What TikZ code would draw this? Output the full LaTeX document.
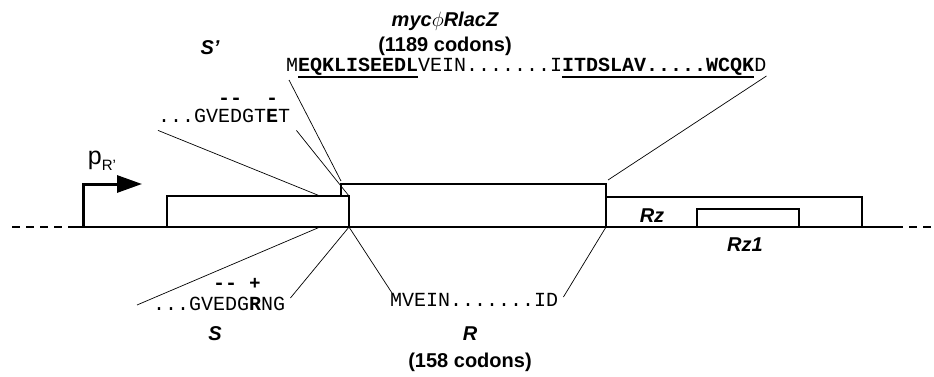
\documentclass[tikz,border=0pt]{standalone}
\usepackage{fontspec}
\setmainfont{Liberation Sans}
\newfontfamily\seqfont{Liberation Mono}
\usepackage{tikz}
\usetikzlibrary{positioning,arrows.meta}

\newcommand{\sequl}[1]{\setbox0\hbox{#1}\rlap{\rule[-6pt]{\wd0}{1.6pt}}\box0}

\tikzset{
  genebox/.style={draw,fill=white,line width=1.4pt,inner sep=0pt,outer sep=0pt,anchor=south west},
  genelabel/.style={font=\fontsize{20}{24}\selectfont\bfseries\itshape},
  codons/.style={font=\fontsize{20}{24}\selectfont\bfseries},
  seq/.style={font=\seqfont\fontsize{20}{24}\selectfont,inner sep=0pt,anchor=base west},
  charge/.style={font=\seqfont\fontsize{20}{24}\selectfont\bfseries,inner sep=0pt},
  link/.style={line width=0.7pt},
}

\begin{document}
\begin{tikzpicture}[x=1pt,y=-1pt]
\useasboundingbox (0,0) rectangle (934,377);
% genes
\node[genebox,minimum width=265pt,minimum height=43pt] (myc) at (341,227) {};
\node[genebox,minimum width=182pt,minimum height=31pt] (S) at (167,227) {};
\node[genebox,minimum width=256pt,minimum height=30pt] (Rz) at (606,227) {};
\node[genebox,minimum width=102pt,minimum height=18pt] (Rz1) at (697,227) {};

% DNA line
\coordinate (farleft) at (12,227);
\coordinate (lineL) at (70,227);
\coordinate (lineR) at (895,227);
\coordinate (farright) at (934,227);
\draw[dash pattern=on 8pt off 6pt,line width=1.6pt] (farleft) -- (lineL);
\draw[line width=1.8pt] (lineL) -- (lineR);
\draw[dash pattern=on 8pt off 6pt,line width=1.6pt] (lineR) -- (farright);

% promoter
\coordinate (pR) at (83,227);
\coordinate (pRtip) at (142,184);
\draw[line width=3pt,-{Triangle[length=25pt,width=17pt]}] (pR) |- (pRtip);
\node[font=\fontsize{25}{26}\selectfont] (pRlab) at (102,161) {p\raisebox{-6pt}{\fontsize{15}{15}\selectfont R'}};

% top labels and sequences
\node[genelabel] (mycname) at (445,21) {myc$\phi$RlacZ};
\node[codons,below=0pt of mycname] (myccod) {(1189 codons)};
\node[genelabel] (Sp) at (210,48) {S'};
\node[seq] (topseq) at (286,72) {M\sequl{\textbf{EQKLISEEDL}}VEIN.......I\sequl{\textbf{ITDSLAV.....WCQK}}D};
\node[seq] (gvt) at (158,123) {...GVEDGT\textbf{E}T};
\node[charge] (gvtm1) at (230,101) {-{}-};
\node[charge] (gvtm2) at (272,101) {-};

% bottom labels and sequences
\node[seq] (gvr) at (153,310) {...GVEDG\textbf{R}NG};
\node[charge] (gvrm) at (225,286) {-{}-};
\node[font=\fontsize{19}{20}\selectfont\bfseries,inner sep=0pt] (gvrp) at (255,284) {+};
\node[seq] (rseq) at (390,306) {MVEIN.......ID};
\node[genelabel] (Slab) at (215,334) {S};
\node[genelabel] (Rlab) at (470,334) {R};
\node[codons,below=5pt of Rlab] (Rcod) {(158 codons)};
\node[genelabel] (Rzlab) at (652,216) {Rz};
\node[genelabel] (Rz1lab) at (745,245) {Rz1};

% connectors
\draw[link] ([yshift=-7pt]gvt.south west) -- ([xshift=-29pt]S.north east);
\draw[link] ([xshift=6pt,yshift=-7pt]gvt.south east) -- (S.north east);
\draw[link] ([xshift=3pt,yshift=-8pt]topseq.base west) -- ([yshift=3pt]myc.north west);
\draw[link] ([yshift=-4pt]topseq.base east) -- ([xshift=2pt,yshift=4pt]myc.north east);
\draw[link] ([xshift=-29pt]S.south east) -- ([xshift=-16pt,yshift=5pt]gvr.base west);
\draw[link] (S.south east) -- ([xshift=5pt,yshift=12pt]gvr.base east);
\draw[link] (S.south east) -- ([xshift=2pt,yshift=13pt]rseq.base west);
\draw[link] (myc.south east) -- ([xshift=5pt,yshift=9pt]rseq.base east);
\end{tikzpicture}
\end{document}
